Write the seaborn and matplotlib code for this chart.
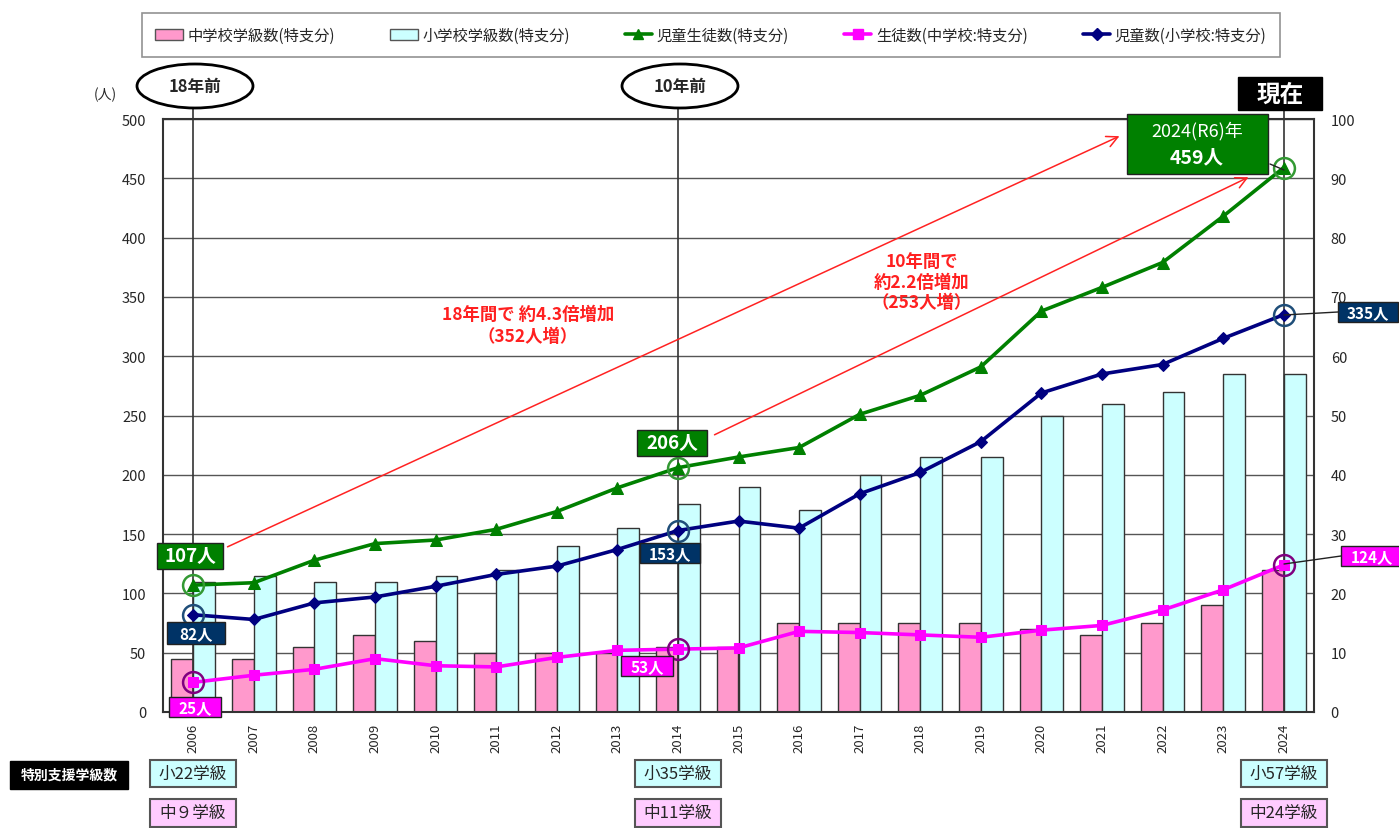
import numpy as np
import pandas as pd
import matplotlib
matplotlib.use("Agg")
import matplotlib.pyplot as plt
import seaborn as sns
from matplotlib.patches import Ellipse, Rectangle, Patch, FancyArrowPatch
from matplotlib.lines import Line2D

# ---------------- data ----------------
years = [str(y) for y in range(2006, 2025)]
jh_classes = [9, 9, 11, 13, 12, 10, 10, 10, 11, 11, 15, 15, 15, 15, 14, 13, 15, 18, 24]
el_classes = [22, 23, 22, 22, 23, 24, 28, 31, 35, 38, 34, 40, 43, 43, 50, 52, 54, 57, 57]
total_students = [107, 109, 128, 142, 145, 154, 169, 189, 206, 215, 223, 251, 267, 291, 338, 358, 379, 418, 459]
jh_students = [25, 31, 36, 45, 39, 38, 46, 52, 53, 54, 68, 67, 65, 63, 69, 73, 86, 103, 124]
el_students = [82, 78, 92, 97, 106, 116, 123, 137, 153, 161, 155, 184, 202, 228, 269, 285, 293, 315, 335]

bar_names = ["中学校学級数(特支分)", "小学校学級数(特支分)"]
line_names = ["児童生徒数(特支分)", "生徒数(中学校:特支分)", "児童数(小学校:特支分)"]
highlight_years = ["2006", "2014", "2024"]
bottom_el = ["小22学級", "小35学級", "小57学級"]
bottom_jh = ["中９学級", "中11学級", "中24学級"]

# ---------------- style ----------------
sns.set_style("white")
plt.rcParams["font.family"] = ["Noto Sans CJK JP", "DejaVu Sans"]
plt.rcParams["axes.unicode_minus"] = False

W, H = 1399, 829
fig = plt.figure(figsize=(W / 100, H / 100), dpi=100)
ax = fig.add_axes([163 / W, 1 - 713 / H, (1314 - 163) / W, (713 - 120) / H])

def fx(px):
    return px / W

def fy(py):
    return 1 - py / H

PINK = "#ff99cc"
CYAN = "#ccffff"
GREEN = "#008000"
MAGENTA = "#ff00ff"
NAVY = "#000080"

# ---------------- bars (right scale, 0-100) ----------------
df_bars = pd.DataFrame({
    "year": years * 2,
    "value": jh_classes + el_classes,
    "kind": [bar_names[0]] * len(years) + [bar_names[1]] * len(years),
})
sns.barplot(data=df_bars, x="year", y="value", hue="kind", hue_order=bar_names,
            palette=[PINK, CYAN], width=0.72, saturation=1, edgecolor="#333333",
            linewidth=1.0, legend=False, ax=ax, zorder=2)
ax.set_ylim(0, 100)
ax.set_xlim(-0.5, len(years) - 0.5)
ax.set_axisbelow(True)
ax.yaxis.grid(True, color="#555555", linewidth=1.0, zorder=0)
ax.set_xlabel("")
ax.set_ylabel("")
ax.set_xticks(range(len(years)))
ax.set_xticklabels(years, rotation=90, fontsize=9.5)
ax.tick_params(axis="x", length=0, pad=8)
for s in ax.spines.values():
    s.set_color("#333333")
    s.set_linewidth(1.5)

# ---------------- lines (left scale, 0-500) ----------------
ax2 = ax.twinx()
pos = np.arange(len(years))
df_lines = pd.DataFrame({
    "pos": np.concatenate([pos, pos, pos]),
    "value": total_students + jh_students + el_students,
    "series": [line_names[0]] * len(years) + [line_names[1]] * len(years) + [line_names[2]] * len(years),
})
line_colors = [GREEN, MAGENTA, NAVY]
line_markers = ["^", "s", "D"]
line_msize = [8, 7.5, 6.5]
for name, col, mk, ms in zip(line_names, line_colors, line_markers, line_msize):
    sub = df_lines[df_lines["series"] == name]
    sns.lineplot(data=sub, x="pos", y="value", color=col, marker=mk, markersize=ms,
                 markeredgecolor=col, linewidth=2.6, ax=ax2, legend=False, zorder=5)
ax2.set_ylim(0, 500)
ax2.set_xlim(-0.5, len(years) - 0.5)
ax2.set_xlabel("")
ax2.set_ylabel("")
for s in ax2.spines.values():
    s.set_visible(False)

# y axes: classes on the right, people on the left
ax.yaxis.tick_right()
ax.set_yticks(np.arange(0, 101, 10))
ax.tick_params(axis="y", left=False, labelleft=False, right=True, labelright=True,
               length=0, pad=12, labelsize=10.5)
ax2.yaxis.tick_left()
ax2.set_yticks(np.arange(0, 501, 50))
ax2.tick_params(axis="y", left=True, labelleft=True, right=False, labelright=False,
                length=0, pad=12, labelsize=10.5)

# vertical guide lines at highlighted years, extending above the plot
for hy in highlight_years:
    i = years.index(hy)
    ax2.plot([i, i], [0, 510], color="#333333", linewidth=1.2, clip_on=False, zorder=3)

# open circles at highlighted points
circle_cols = ["#339933", "#800080", "#1f4e79"]
for vals, cc in zip([total_students, jh_students, el_students], circle_cols):
    for hy in highlight_years:
        i = years.index(hy)
        ax2.plot([i], [vals[i]], marker="o", markersize=15, markerfacecolor="none",
                 markeredgecolor=cc, markeredgewidth=1.8, zorder=6, clip_on=False)

# ---------------- legend ----------------
handles = [
    Patch(facecolor=PINK, edgecolor="#555555", label=bar_names[0]),
    Patch(facecolor=CYAN, edgecolor="#555555", label=bar_names[1]),
    Line2D([], [], color=GREEN, marker="^", markersize=7, linewidth=2.6, label=line_names[0]),
    Line2D([], [], color=MAGENTA, marker="s", markersize=7, linewidth=2.6, label=line_names[1]),
    Line2D([], [], color=NAVY, marker="D", markersize=6, linewidth=2.6, label=line_names[2]),
]
leg = fig.legend(handles=handles, loc="center", bbox_to_anchor=(fx(711), fy(36)), ncol=5,
                 frameon=True, fancybox=False, edgecolor="#777777", fontsize=11,
                 handlelength=1.8, handletextpad=0.3, columnspacing=3.6, borderpad=0.9,
                 borderaxespad=0)
leg.get_frame().set_linewidth(1.2)

# ---------------- annotations ----------------
fig.text(fx(105), fy(95), "(人)", ha="center", va="center", fontsize=10)

# ellipses on top
for cx, label in [(195, "18年前"), (680, "10年前")]:
    fig.add_artist(Ellipse((fx(cx), fy(87)), width=116 / W, height=44 / H,
                           transform=fig.transFigure, facecolor="white",
                           edgecolor="black", linewidth=2))
    fig.text(fx(cx), fy(87), label, ha="center", va="center", fontsize=12, fontweight="bold")

# 現在
fig.add_artist(Rectangle((fx(1238), fy(111)), 84 / W, 33 / H, transform=fig.transFigure,
                         facecolor="black", edgecolor="black"))
fig.text(fx(1280), fy(94.5), "現在", ha="center", va="center", fontsize=17,
         fontweight="bold", color="white")

def label_box(cx, cy, w, h, text, fc, fs, color="white", weight="bold", ec="#222222"):
    fig.add_artist(Rectangle((fx(cx - w / 2), fy(cy + h / 2)), w / W, h / H,
                             transform=fig.transFigure, facecolor=fc, edgecolor=ec,
                             linewidth=1, zorder=10))
    fig.text(fx(cx), fy(cy), text, ha="center", va="center", fontsize=fs,
             fontweight=weight, color=color, zorder=11)

# connector lines
def fig_line(x0, y0, x1, y1, color="#222222", lw=1):
    fig.add_artist(Line2D([fx(x0), fx(x1)], [fy(y0), fy(y1)], transform=fig.transFigure,
                          color=color, linewidth=lw, zorder=9))

fig_line(1284, 316, 1338, 313)
fig_line(1284, 565, 1341, 557)
fig_line(1270, 165, 1284, 171)

label_box(190, 557, 66, 26, "107人", "#008000", 13.5)
label_box(196, 634, 58, 22, "82人", "#003366", 11)
label_box(195, 708, 52, 20, "25人", "#ff00ff", 11)
label_box(672, 444, 70, 26, "206人", "#008000", 13.5)
label_box(670, 554, 60, 20, "153人", "#003366", 11)
label_box(647, 667, 52, 20, "53人", "#ff00ff", 11)
label_box(1368, 313, 60, 20, "335人", "#003366", 11)
label_box(1372, 557, 62, 20, "124人", "#ff00ff", 11)

# big 2024 box
fig.add_artist(Rectangle((fx(1127), fy(175)), 141 / W, 60 / H, transform=fig.transFigure,
                         facecolor="#008000", edgecolor="#222222", linewidth=1, zorder=10))
fig.text(fx(1197), fy(131), "2024(R6)年", ha="center", va="center", fontsize=13,
         color="white", zorder=11)
fig.text(fx(1197), fy(158), "459人", ha="center", va="center", fontsize=14,
         fontweight="bold", color="white", zorder=11)

# red arrows and text
for (x0, y0, x1, y1) in [(225, 549, 1122, 136), (712, 437, 1251, 177)]:
    fig.add_artist(FancyArrowPatch((fx(x0), fy(y0)), (fx(x1), fy(y1)),
                                   transform=fig.transFigure, arrowstyle="->,head_length=8,head_width=4",
                                   color="#ff2222", linewidth=1.1, zorder=8))
fig.text(fx(528), fy(326), "18年間で 約4.3倍増加\n（352人増）", ha="center", va="center",
         fontsize=12.5, fontweight="bold", color="#ff2020", linespacing=1.25)
fig.text(fx(922), fy(283), "10年間で\n約2.2倍増加\n（253人増）", ha="center", va="center",
         fontsize=12.5, fontweight="bold", color="#ff2020", linespacing=1.15)

# bottom boxes
fig.add_artist(Rectangle((fx(10), fy(790)), 118 / W, 28 / H, transform=fig.transFigure,
                         facecolor="black", edgecolor="black"))
fig.text(fx(69), fy(776), "特別支援学級数", ha="center", va="center", fontsize=10,
         fontweight="bold", color="white")
for hy, t_el, t_jh in zip(highlight_years, bottom_el, bottom_jh):
    i = years.index(hy)
    cx = 193 + i * (1284 - 193) / 18
    fig.add_artist(Rectangle((fx(cx - 43), fy(788)), 86 / W, 27 / H, transform=fig.transFigure,
                             facecolor=CYAN, edgecolor="#555555", linewidth=1.5))
    fig.text(fx(cx), fy(774.5), t_el, ha="center", va="center", fontsize=12)
    fig.add_artist(Rectangle((fx(cx - 43), fy(828)), 86 / W, 28 / H, transform=fig.transFigure,
                             facecolor="#ffccff", edgecolor="#555555", linewidth=1.5))
    fig.text(fx(cx), fy(814), t_jh, ha="center", va="center", fontsize=12)

fig.savefig("out.png", dpi=100)
